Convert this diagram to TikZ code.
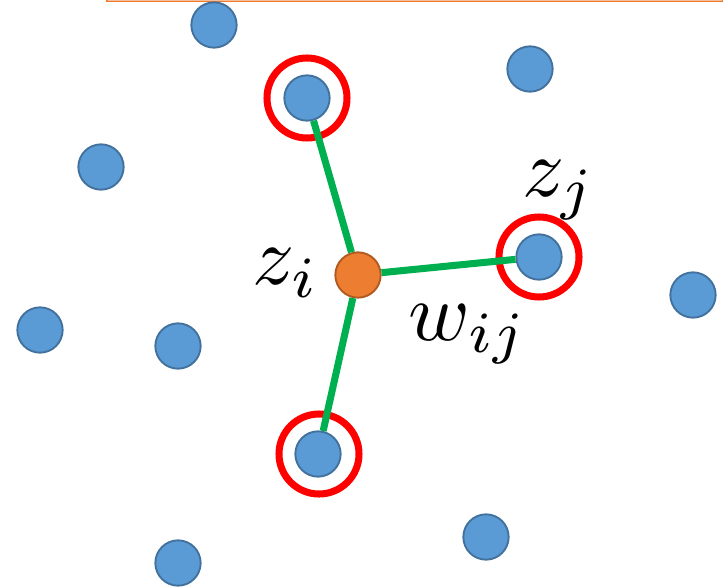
\documentclass[tikz,border=0pt]{standalone}
\usepackage{xcolor}
\definecolor{PtBlue}{HTML}{5B9BD5}
\definecolor{PtBlueEdge}{HTML}{41719C}
\definecolor{PtOrange}{HTML}{ED7D31}
\definecolor{PtOrangeEdge}{HTML}{AE5A21}
\definecolor{EdgeGreen}{HTML}{00B050}
\definecolor{RingRed}{HTML}{FF0000}
\usepackage{tikz}
\usetikzlibrary{positioning}

\begin{document}
\begin{tikzpicture}[x=0.03cm,y=-0.03cm,
  pt/.style={circle,draw=PtBlueEdge,fill=PtBlue,line width=1.6pt,inner sep=0pt,minimum size=1.36cm},
  ctr/.style={pt,draw=PtOrangeEdge,fill=PtOrange},
  ring/.style={circle,draw=RingRed,line width=6pt,inner sep=0pt,minimum size=2.4cm},
  link/.style={EdgeGreen,line width=6pt},
  lbl/.style={inner sep=0pt,scale=7.1}
]
  \useasboundingbox (0,0) rectangle (723,588);
  % top bar
  \draw[PtOrange,line width=1.2pt,fill=PtOrange!50] (107,-6) rectangle (723,1.5);
  % neighbour rings
  \node[ring] (r1) at (307,98) {};
  \node[ring] (r2) at (539,257) {};
  \node[ring] (r3) at (319,454) {};
  % points
  \node[pt] (p1) at (214,25) {};
  \node[pt] (p2) at (530,69) {};
  \node[pt] (n1) at (307,98) {};
  \node[pt] (p3) at (101,167) {};
  \node[pt] (n2) at (539,257) {};
  \node[pt] (p4) at (693,295) {};
  \node[pt] (p5) at (40,330) {};
  \node[pt] (p6) at (178,346) {};
  \node[pt] (n3) at (318,454) {};
  \node[pt] (p7) at (486,537) {};
  \node[pt] (p8) at (178,563) {};
  \node[ctr] (zi) at (358,275) {};
  % weights
  \draw[link] (zi) -- (n1);
  \draw[link] (zi) -- (n2);
  \draw[link] (zi) -- (n3);
  % labels
  \node[lbl] (lzi) at (286,273) {$z_i$};
  \node[lbl] (lzj) at (559,190) {$z_j$};
  \node[lbl] (lw) at (468,334) {$w_{ij}$};
\end{tikzpicture}
\end{document}
